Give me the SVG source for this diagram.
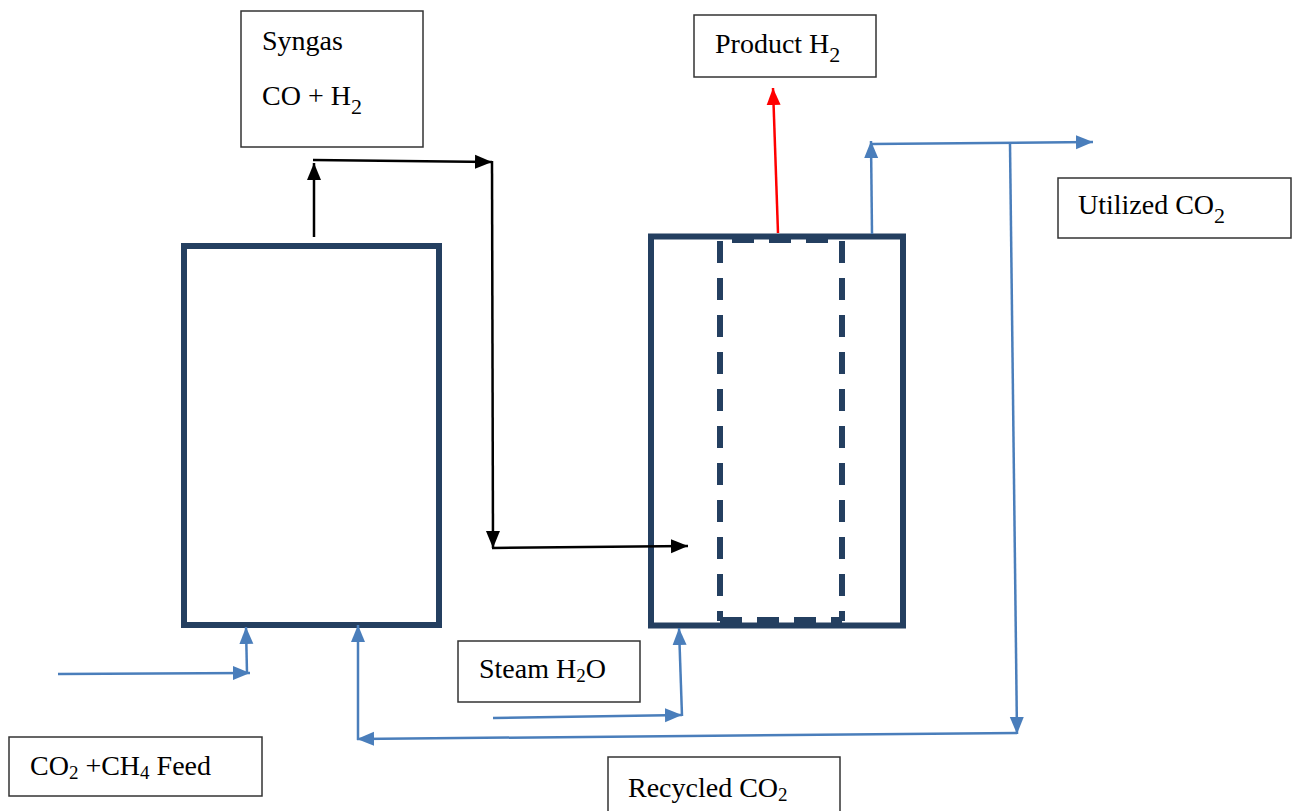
<svg xmlns="http://www.w3.org/2000/svg" width="1297" height="811" viewBox="0 0 1297 811">
<style>
.box{fill:#fff;stroke:#333;stroke-width:1.5}
.reactor{fill:#fff;stroke:#243F60;stroke-width:6}
.memb{fill:none;stroke:#243F60;stroke-width:6;stroke-dasharray:22 15}
.lbl{font-family:"Liberation Serif","Times New Roman",serif;font-size:28px;fill:#000}
.blk{fill:none;stroke:#000;stroke-width:2.5}
.blu{fill:none;stroke:#4A7EBB;stroke-width:2.5}
.red{fill:none;stroke:#FF0000;stroke-width:2.5}
</style>
<defs>
<marker id="ab" markerUnits="userSpaceOnUse" markerWidth="18" markerHeight="16" refX="17" refY="8" orient="auto"><path d="M0,1 L17,8 L0,15 z" fill="#000"/></marker>
<marker id="au" markerUnits="userSpaceOnUse" markerWidth="18" markerHeight="16" refX="17" refY="8" orient="auto"><path d="M0,1 L17,8 L0,15 z" fill="#4A7EBB"/></marker>
<marker id="ar" markerUnits="userSpaceOnUse" markerWidth="18" markerHeight="16" refX="17" refY="8" orient="auto"><path d="M0,1 L17,8 L0,15 z" fill="#FF0000"/></marker>
</defs>
<rect width="1297" height="811" fill="#fff"/>

<g id="reactor1"><rect class="reactor" x="184" y="246" width="255" height="379"/></g>
<g id="reactor2">
<rect class="reactor" x="651" y="236.5" width="252" height="389"/>
<line class="memb" x1="720" y1="241" x2="720" y2="621"/>
<line class="memb" x1="842" y1="241" x2="842" y2="621"/>
<line class="memb" x1="732" y1="240" x2="842" y2="240" stroke-dasharray="23 14" stroke-width="4"/>
<line class="memb" x1="720" y1="620" x2="842" y2="620" stroke-dasharray="8 15 23 14" stroke-width="4"/>
</g>

<g id="syngas"><rect class="box" x="241" y="11" width="182" height="136"/>
<text class="lbl" x="262" y="50">Syngas</text>
<text class="lbl" x="262" y="105">CO + H<tspan font-size="22" dy="9">2</tspan></text></g>
<g id="product"><rect class="box" x="694" y="15" width="182" height="62"/>
<text class="lbl" x="715" y="53">Product H<tspan font-size="22" dy="9">2</tspan></text></g>
<g id="utilized"><rect class="box" x="1058" y="178" width="233" height="60"/>
<text class="lbl" x="1078" y="214">Utilized CO<tspan font-size="22" dy="9">2</tspan></text></g>
<g id="feed"><rect class="box" x="9" y="737" width="253" height="59"/>
<text class="lbl" x="30" y="775">CO<tspan font-size="19" dy="4">2</tspan><tspan dy="-4"> +CH</tspan><tspan font-size="19" dy="4">4</tspan><tspan dy="-4"> Feed</tspan></text></g>
<g id="steam"><rect class="box" x="458" y="641" width="182" height="61"/>
<text class="lbl" x="479" y="678">Steam H<tspan font-size="19" dy="4">2</tspan><tspan dy="-4">O</tspan></text></g>
<g id="recycled"><rect class="box" x="608" y="757" width="232" height="60"/>
<text class="lbl" x="628" y="797">Recycled CO<tspan font-size="19" dy="4">2</tspan></text></g>

<g id="connectors">
<line class="blk" x1="314" y1="237" x2="314" y2="163" marker-end="url(#ab)"/>
<line class="blk" x1="313" y1="160" x2="492" y2="162" marker-end="url(#ab)"/>
<line class="blk" x1="492" y1="161" x2="493" y2="548" marker-end="url(#ab)"/>
<line class="blk" x1="492" y1="548" x2="688" y2="546" marker-end="url(#ab)"/>
<line class="red" x1="778" y1="233" x2="773" y2="88" marker-end="url(#ar)"/>
<line class="blu" x1="872" y1="234" x2="871" y2="141" marker-end="url(#au)"/>
<line class="blu" x1="871" y1="144" x2="1093" y2="142" marker-end="url(#au)"/>
<line class="blu" x1="1010" y1="144" x2="1017" y2="734" marker-end="url(#au)"/>
<line class="blu" x1="1017" y1="733" x2="357" y2="739" marker-end="url(#au)"/>
<line class="blu" x1="358" y1="740" x2="358" y2="625" marker-end="url(#au)"/>
<line class="blu" x1="58" y1="674" x2="250" y2="673" marker-end="url(#au)"/>
<line class="blu" x1="247" y1="674" x2="246" y2="627" marker-end="url(#au)"/>
<line class="blu" x1="493" y1="718" x2="682" y2="715" marker-end="url(#au)"/>
<line class="blu" x1="682" y1="716" x2="679" y2="628" marker-end="url(#au)"/>
</g>
</svg>
